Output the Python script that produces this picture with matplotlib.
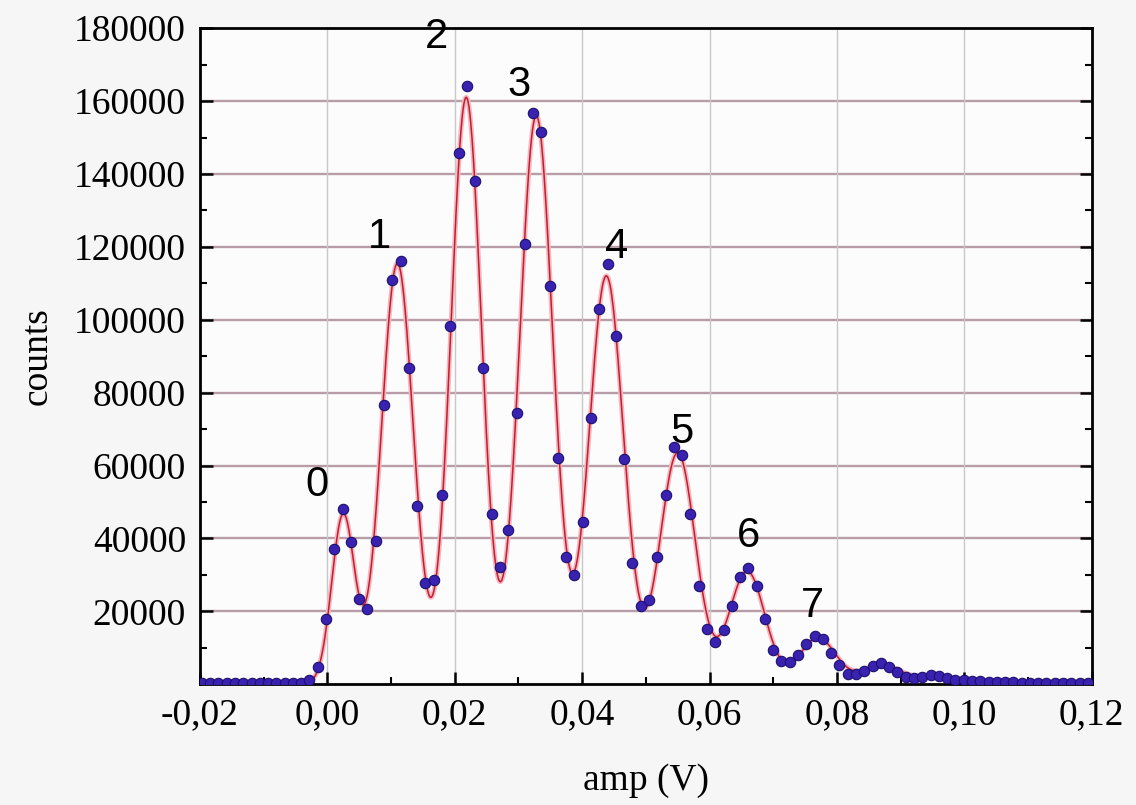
import matplotlib
matplotlib.use('Agg')
import matplotlib.pyplot as plt
import numpy as np

# measured histogram (bin centres in V, counts)
amp = [-0.0197, -0.0184, -0.0171, -0.0158, -0.0145, -0.0132, -0.0119, -0.0106, -0.0093, -0.0080,
       -0.0067, -0.0054, -0.0041, -0.0028,
       -0.0015, -0.0002, 0.0011, 0.0024, 0.0037, 0.0050, 0.0063, 0.0076, 0.0089, 0.0102,
       0.0115, 0.0128, 0.0141, 0.0154, 0.0167, 0.0180, 0.0193, 0.0206, 0.0219, 0.0232,
       0.0245, 0.0258, 0.0271, 0.0284, 0.0297, 0.0310, 0.0323, 0.0336, 0.0349, 0.0362,
       0.0375, 0.0388, 0.0401, 0.0414, 0.0427, 0.0440, 0.0453, 0.0466, 0.0479, 0.0492,
       0.0505, 0.0518, 0.0531, 0.0544, 0.0557, 0.0570, 0.0583, 0.0596, 0.0609, 0.0622,
       0.0635, 0.0648, 0.0661, 0.0674, 0.0687, 0.0700, 0.0713, 0.0726, 0.0739, 0.0752,
       0.0765, 0.0778, 0.0791, 0.0804, 0.0817, 0.0830, 0.0843, 0.0856, 0.0869, 0.0882,
       0.0895, 0.0908, 0.0921, 0.0934, 0.0947, 0.0960, 0.0973, 0.0986, 0.0999, 0.1012,
       0.1025, 0.1038, 0.1051, 0.1064, 0.1077, 0.1090, 0.1103, 0.1116, 0.1129, 0.1142,
       0.1155, 0.1168, 0.1181, 0.1194]
counts = [300, 250, 300, 350, 300, 250, 300, 350, 300, 250,
          300, 350, 400, 1300,
          4700, 17800, 37200, 48000, 39000, 23500, 20600, 39400, 76500, 111000,
          116000, 86800, 48900, 27900, 28700, 52000, 98300, 145700, 164000, 138000,
          86700, 46700, 32100, 42300, 74500, 120800, 156600, 151600, 109200, 62000,
          34800, 30000, 44400, 73000, 102900, 115400, 95500, 61800, 33400, 21500,
          23100, 34900, 51800, 65000, 62800, 46800, 27000, 15100, 11600, 15000,
          21500, 29300, 31900, 27000, 17800, 9300, 6300, 6200, 8100, 11100,
          13200, 12400, 8700, 5300, 2700, 2700, 3700, 5000, 5800, 4800,
          3300, 2000, 1800, 2000, 2500, 2200, 1600, 1300, 1100, 900,
          800, 700, 600, 550, 500, 450, 400, 400, 350, 350,
          300, 300, 300, 300]

# multi-gaussian fit parameters
fit_centers = [0.0025, 0.0110, 0.0218, 0.0328, 0.0438, 0.0550, 0.0659, 0.0770, 0.0870, 0.0955, 0.1050]
fit_amps = [46500, 115500, 161000, 156000, 112000, 63500, 31000, 12700, 5300, 2000, 800]
fit_sigmas = [0.0018, 0.0025, 0.0024, 0.0026, 0.0027, 0.0028, 0.0028, 0.0029, 0.0030, 0.0032, 0.0040]

# photon number labels
peak_labels = ['0', '1', '2', '3', '4', '5', '6', '7']
label_x = [-0.0017, 0.0082, 0.0171, 0.0301, 0.0454, 0.0556, 0.0661, 0.0761]
label_y = [54600, 122700, 177600, 164400, 120000, 69200, 40600, 21600]

xticks = [-0.02, 0.0, 0.02, 0.04, 0.06, 0.08, 0.10, 0.12]
xticklabels = ['-0,02', '0,00', '0,02', '0,04', '0,06', '0,08', '0,10', '0,12']
yticks = [20000, 40000, 60000, 80000, 100000, 120000, 140000, 160000, 180000]


def fit_curve(x):
    y = np.zeros_like(x)
    for c, a, s in zip(fit_centers, fit_amps, fit_sigmas):
        y += a * np.exp(-(x - c) ** 2 / (2 * s ** 2))
    return y


fig = plt.figure(figsize=(11.36, 8.05), dpi=100, facecolor='#f6f6f6')
ax = fig.add_axes([0.176, 0.150, 0.785, 0.815])
ax.set_facecolor('#fcfcfc')

xf = np.linspace(-0.02, 0.12, 2000)
ax.plot(xf, fit_curve(xf), '-', color='#f3b8c4', lw=3.5, zorder=2)
ax.plot(xf, fit_curve(xf), '-', color='#c41e2a', lw=1.1, zorder=3)
ax.plot(amp, counts, 'o', ms=7.5, color='#3a22b0', mec='#1c1070', mew=0.8, zorder=4)

for t, x, y in zip(peak_labels, label_x, label_y):
    ax.text(x, y, t, ha='center', va='center', fontsize=30,
            family='Liberation Sans', color='black', zorder=5)

ax.set_xlim(-0.02, 0.12)
ax.set_ylim(0, 180000)
ax.set_xticks(xticks)
ax.set_xticklabels(xticklabels)
ax.set_xticks(np.arange(-0.01, 0.12, 0.02), minor=True)
ax.set_yticks(yticks)
ax.set_yticklabels([str(v) for v in yticks])
ax.set_yticks(np.arange(10000, 180000, 20000), minor=True)

for v in yticks[:-1]:
    ax.axhline(v, color='#b89ca7', lw=1.7, zorder=1)
for v in xticks[1:-1]:
    ax.axvline(v, color='#c8c8c8', lw=1.0, zorder=1)

for s in ax.spines.values():
    s.set_linewidth(2.0)
    s.set_color('black')

ax.tick_params(which='both', direction='in', top=False, right=True)
ax.tick_params(which='major', length=9, width=1.8)
ax.tick_params(which='minor', length=5, width=1.5)
ax.tick_params(axis='both', labelsize=27, pad=10)
for lab in ax.get_xticklabels() + ax.get_yticklabels():
    lab.set_family('Liberation Serif')

ax.set_xlabel('amp (V)', fontsize=27, family='Liberation Serif', labelpad=22)
ax.set_ylabel('counts', fontsize=27, family='Liberation Serif', labelpad=14)

fig.savefig('out.png', dpi=100, facecolor=fig.get_facecolor())
